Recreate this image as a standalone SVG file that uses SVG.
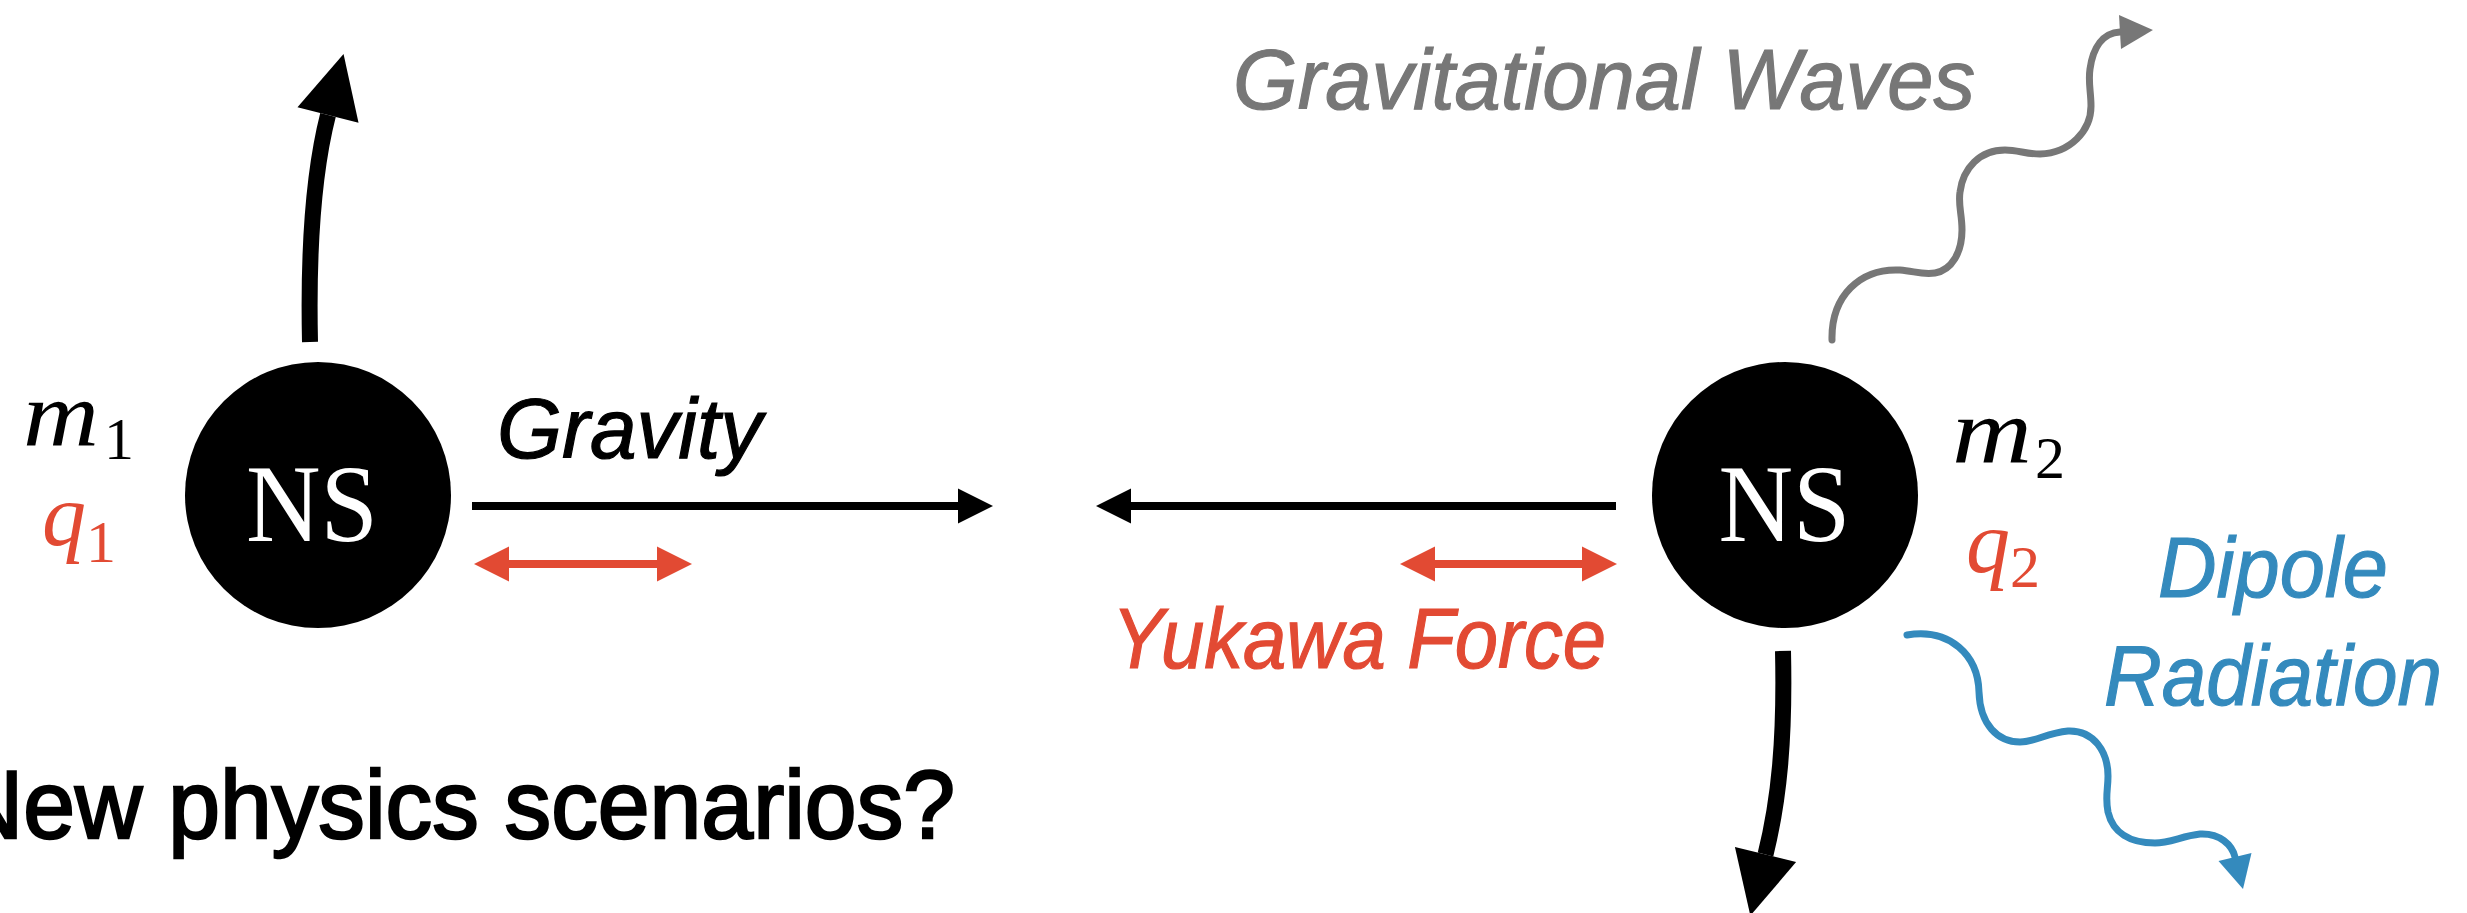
<svg xmlns="http://www.w3.org/2000/svg" width="2467" height="913" viewBox="0 0 2467 913">
  <style>
    .ns { fill: #000; }
    .ns-label { fill: #fff; font-family: "Liberation Serif", serif; font-size: 110px; text-anchor: middle; }
    .math { font-family: "Liberation Serif", serif; font-style: italic; }
    .sub { font-family: "Liberation Serif", serif; font-style: normal; }
    .lbl { font-family: "Liberation Sans", Arial, sans-serif; font-style: italic; font-size: 85px; stroke-width: 1.2; }
    .title { font-family: "Liberation Sans", Arial, sans-serif; font-size: 97px; fill: #000; stroke: #000; stroke-width: 2.5; }
    .black { fill: #000; }
    .red { fill: #E24A33; }
    .blue { fill: #348ABD; }
    .gray { fill: #777777; }
    .lbl.black { stroke: #000; }
    .lbl.red { stroke: #E24A33; }
    .lbl.blue { stroke: #348ABD; }
    .lbl.gray { stroke: #777777; }
    .line-black { stroke: #000; stroke-width: 8; fill: none; }
    .line-red { stroke: #E24A33; stroke-width: 8; fill: none; }
    .thick { stroke: #000; stroke-width: 16; fill: none; }
    .wave-gray { stroke: #777777; stroke-width: 7; fill: none; stroke-linecap: round; }
    .wave-blue { stroke: #348ABD; stroke-width: 7; fill: none; stroke-linecap: round; }
  </style>
  <defs>
    <marker id="head-black" markerUnits="userSpaceOnUse" markerWidth="40" markerHeight="40" refX="0" refY="17.5" orient="auto" overflow="visible">
      <path d="M0,0 L35,17.5 L0,35 z" fill="#000"/>
    </marker>
    <marker id="head-red" markerUnits="userSpaceOnUse" markerWidth="40" markerHeight="40" refX="0" refY="17.5" orient="auto-start-reverse" overflow="visible">
      <path d="M0,0 L35,17.5 L0,35 z" fill="#E24A33"/>
    </marker>
    <marker id="head-big" markerUnits="userSpaceOnUse" markerWidth="70" markerHeight="70" refX="0" refY="31.5" orient="auto" overflow="visible">
      <path d="M0,0 L63,31.5 L0,63 z" fill="#000"/>
    </marker>
    <marker id="head-gray" markerUnits="userSpaceOnUse" markerWidth="40" markerHeight="40" refX="0" refY="17" orient="auto" overflow="visible">
      <path d="M0,0 L33,17 L0,34 z" fill="#777777"/>
    </marker>
    <marker id="head-blue" markerUnits="userSpaceOnUse" markerWidth="40" markerHeight="40" refX="0" refY="17" orient="auto" overflow="visible">
      <path d="M0,0 L33,17 L0,34 z" fill="#348ABD"/>
    </marker>
  </defs>

  <rect width="2467" height="913" fill="#fff"/>

  <!-- connectors: forces, velocities and radiation -->
  <g id="connectors">
    <!-- velocity of star 1 -->
    <path class="thick" d="M310,342 C308,250 314,170 328,115" marker-end="url(#head-big)"/>
    <!-- velocity of star 2 -->
    <path class="thick" d="M1783,651 C1785,740 1779,800 1765.5,854.5" marker-end="url(#head-big)"/>
    <!-- gravity -->
    <path class="line-black" d="M472,506 L958,506" marker-end="url(#head-black)"/>
    <path class="line-black" d="M1616,506 L1131,506" marker-end="url(#head-black)"/>
    <!-- Yukawa force -->
    <path class="line-red" d="M509,564 L657,564" marker-start="url(#head-red)" marker-end="url(#head-red)"/>
    <path class="line-red" d="M1435,564 L1582,564" marker-start="url(#head-red)" marker-end="url(#head-red)"/>
    <!-- gravitational waves -->
    <path class="wave-gray" d="M1832,340 C1831,296 1860,268 1900,270 C1914,271 1922,275 1935,273 C1952,270 1962,252 1962,230 C1962,214 1958,205 1960,192 C1963,168 1980,150 2005,150 C2018,150 2026,154 2040,154 C2070,153 2091,131 2091,106 C2091,92 2088,82 2090,69 C2093,47 2103,33 2120,32" marker-end="url(#head-gray)"/>
    <!-- dipole radiation -->
    <path class="wave-blue" d="M1907,635 C1950,628 1978,655 1979,692 C1980,725 1998,742 2020,742 C2036,742 2046,733 2068,731 C2094,730 2108,752 2108,776 C2108,790 2105,797 2108,812 C2113,833 2130,843 2155,843 C2170,843 2182,836 2200,834 C2220,833 2232,845 2235,857" marker-end="url(#head-blue)"/>
  </g>

  <!-- neutron star 1 -->
  <g id="ns1">
    <circle class="ns" cx="318" cy="495" r="133"/>
    <text class="ns-label" x="312" y="541" textLength="132" lengthAdjust="spacingAndGlyphs">NS</text>
    <text class="math black" x="23" y="446" font-size="94" textLength="76" lengthAdjust="spacingAndGlyphs">m</text>
    <text class="sub black" x="104" y="459" font-size="60">1</text>
    <text class="math red" x="42" y="545" font-size="88">q</text>
    <text class="sub red" x="86" y="562" font-size="60">1</text>
  </g>

  <!-- neutron star 2 -->
  <g id="ns2">
    <circle class="ns" cx="1785" cy="495" r="133"/>
    <text class="ns-label" x="1784.5" y="541" textLength="132" lengthAdjust="spacingAndGlyphs">NS</text>
    <text class="math black" x="1952" y="463" font-size="94" textLength="80" lengthAdjust="spacingAndGlyphs">m</text>
    <text class="sub black" x="2035" y="478" font-size="60">2</text>
    <text class="math red" x="1966" y="572" font-size="88">q</text>
    <text class="sub red" x="2010" y="587" font-size="60">2</text>
  </g>

  <!-- labels -->
  <g id="labels">
    <text class="lbl black" x="497" y="458" textLength="265" lengthAdjust="spacingAndGlyphs">Gravity</text>
    <text class="lbl gray" x="1233" y="109" textLength="742" lengthAdjust="spacingAndGlyphs">Gravitational Waves</text>
    <text class="lbl red" x="1112" y="668" textLength="494" lengthAdjust="spacingAndGlyphs">Yukawa Force</text>
    <text class="lbl blue" x="2158" y="597" textLength="230" lengthAdjust="spacingAndGlyphs">Dipole</text>
    <text class="lbl blue" x="2104" y="705" textLength="338" lengthAdjust="spacingAndGlyphs">Radiation</text>
  </g>

  <!-- heading -->
  <g id="heading">
    <text class="title" x="-44" y="838" textLength="999" lengthAdjust="spacingAndGlyphs">New physics scenarios?</text>
  </g>
</svg>
